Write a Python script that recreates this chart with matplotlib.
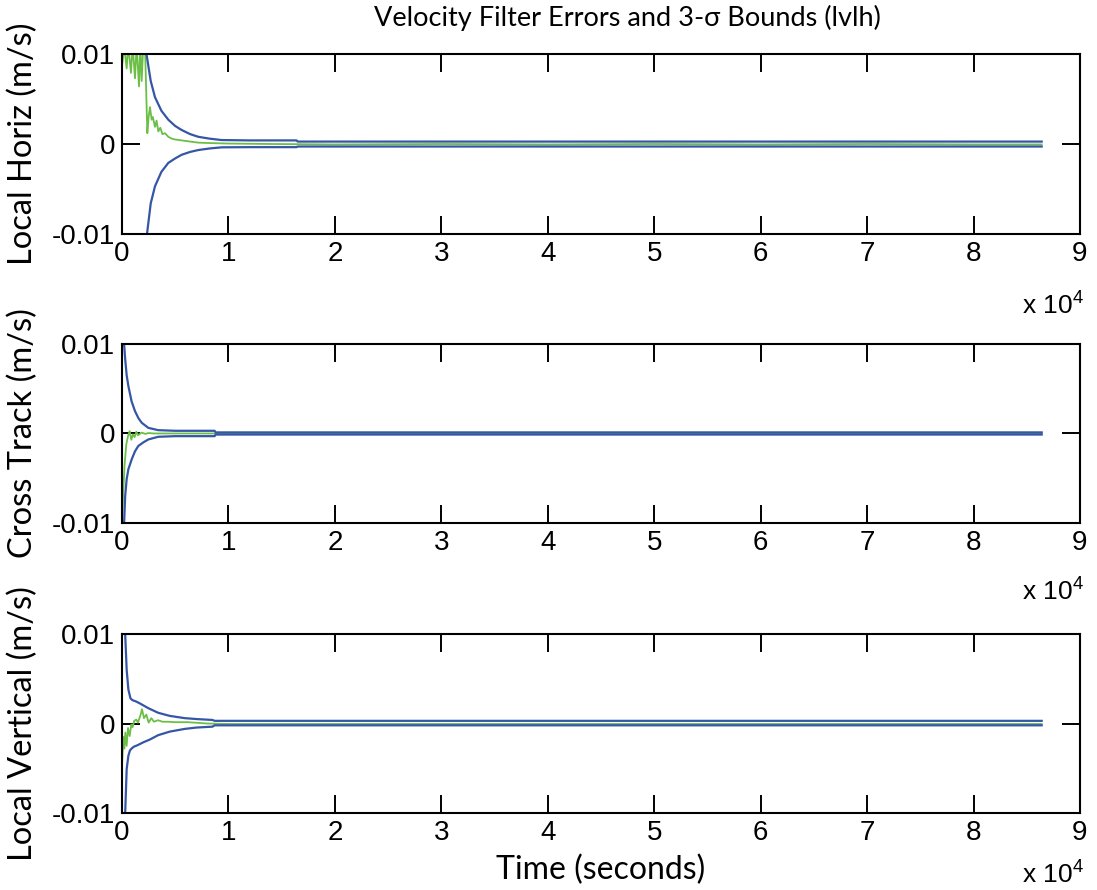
import matplotlib
matplotlib.use("Agg")
import matplotlib.pyplot as plt

plt.rcParams['font.family'] = ['Liberation Sans', 'DejaVu Sans']
plt.rcParams['mathtext.fontset'] = 'custom'
plt.rcParams['mathtext.rm'] = 'Liberation Sans'
plt.rcParams['mathtext.it'] = 'Liberation Sans'

BLUE = '#3556a6'
GREEN = '#6cbf46'
LABEL_FONT = ['Lato', 'DejaVu Sans']

# Local Horiz
t_h_hi = [2300, 2700, 3100, 3700, 4350, 5000, 5600, 6400, 7170, 8200, 9360, 12000, 16400, 16500, 86400]
v_h_hi = [0.0100, 0.0070, 0.0052, 0.0037, 0.0027, 0.0020, 0.00156, 0.0011, 0.0008, 0.0006, 0.00044, 0.0004, 0.0004, 0.00027, 0.00027]
t_h_lo = [2350, 2700, 3100, 3700, 4350, 5000, 5600, 6400, 7170, 8200, 9360, 12000, 16400, 16500, 86400]
v_h_lo = [-0.0100, -0.0066, -0.0047, -0.0031, -0.0021, -0.0016, -0.0012, -0.00088, -0.00067, -0.0005, -0.00037, -0.00035, -0.00035, -0.00028, -0.00028]
t_h_err = [0, 219, 438, 595, 845, 1002, 1221, 1378, 1597, 1722, 1848, 2004, 2160, 2380, 2500, 2631, 2787,
           2900, 3100, 3250, 3413, 3600, 3800, 4040, 4353, 4666, 5000, 5606, 6232, 7171, 8400, 10000,
           14000, 20000, 30000, 40000, 50000, 60000, 70000, 80000, 86400]
v_h_err = [0.0087, 0.0108, 0.0084, 0.0110, 0.0079, 0.0110, 0.0073, 0.0110, 0.0064, 0.0110, 0.0070, 0.0110,
           0.0110, 0.0012, 0.0030, 0.0041, 0.0027, 0.0030, 0.0019, 0.0026, 0.0014, 0.0018, 0.0011, 0.0012,
           0.0008, 0.0006, 0.0005, 0.0004, 0.0003, 0.00015, 0.0001, 0.00005, 0.0, -0.00005, 0.0, -0.00005,
           0.0, -0.00005, 0.0, -0.00005, -0.00005]

# Cross Track
t_c_hi = [200, 300, 440, 600, 900, 1220, 1550, 1850, 2470, 3400, 5000, 8700, 8800, 86400]
v_c_hi = [0.0100, 0.0083, 0.0065, 0.0053, 0.0036, 0.0025, 0.0017, 0.0012, 0.00063, 0.00037, 0.0003, 0.0003, 0.00012, 0.00012]
t_c_lo = [200, 300, 440, 600, 910, 1220, 1530, 2000, 2470, 3400, 5000, 8700, 8800, 86400]
v_c_lo = [-0.0100, -0.0070, -0.0051, -0.0040, -0.0029, -0.0020, -0.0014, -0.0010, -0.00067, -0.00037, -0.0003, -0.0003, -0.00012, -0.00012]
t_c_err = [0, 94, 250, 407, 564, 720, 877, 1033, 1190, 1350, 1500, 1850, 2200, 2500, 3000, 4000, 6000,
           8700, 20000, 40000, 60000, 86400]
v_c_err = [-0.0099, -0.0071, -0.0034, -0.0012, -0.0003, 0.00026, -0.0007, -0.0001, -0.0004, 0.0002,
           -0.0002, 0.0001, -0.00005, 0.00005, 0.0, 0.0, 0.0, 0.0, 0.0, 0.0, 0.0, 0.0]

# Local Vertical
t_v_hi = [300, 440, 600, 800, 1000, 1250, 1600, 1900, 2500, 3400, 4500, 5900, 7000, 8500, 8700, 86400]
v_v_hi = [0.0100, 0.0060, 0.0038, 0.0028, 0.0026, 0.0025, 0.0023, 0.0021, 0.0017, 0.0012, 0.00085, 0.0006, 0.0005, 0.0004, 0.0003, 0.0003]
t_v_lo = [300, 440, 600, 750, 900, 1100, 1500, 2000, 2600, 3400, 4500, 5900, 7000, 8500, 8700, 86400]
v_v_lo = [-0.0100, -0.0051, -0.0036, -0.0030, -0.0028, -0.0026, -0.0024, -0.0021, -0.0018, -0.0013, -0.0009, -0.0006, -0.00045, -0.00035, -0.0002, -0.0002]
t_v_err = [0, 5, 31, 125, 219, 313, 438, 564, 720, 877, 1000, 1150, 1347, 1500, 1754, 1879, 2067, 2286,
           2505, 2756, 3000, 3382, 3800, 4322, 5000, 6200, 8000, 10000, 20000, 40000, 60000, 86400]
v_v_err = [0.0017, -0.0046, -0.0040, -0.0015, -0.0028, -0.0010, -0.0025, -0.0005, -0.0014, -0.0001,
           -0.0004, 0.0003, 0.00044, 0.0001, 0.0010, 0.0016, 0.0006, 0.0010, 0.0001, 0.0006, 0.0002,
           0.00037, 0.0002, 0.0002, 0.00015, 0.00015, 0.0, -0.00005, -0.00005, -0.00005, -0.00005, -0.00005]

panels = [
    ("Local Horiz (m/s)", t_h_err, v_h_err, t_h_hi, v_h_hi, t_h_lo, v_h_lo),
    ("Cross Track (m/s)", t_c_err, v_c_err, t_c_hi, v_c_hi, t_c_lo, v_c_lo),
    ("Local Vertical (m/s)", t_v_err, v_v_err, t_v_hi, v_v_hi, t_v_lo, v_v_lo),
]

xticks = [0, 10000, 20000, 30000, 40000, 50000, 60000, 70000, 80000, 90000]
xtick_labels = ['0', '1', '2', '3', '4', '5', '6', '7', '8', '9']
yticks = [-0.01, 0, 0.01]
ytick_labels = ['-0.01', '0', '0.01']

fig = plt.figure(figsize=(10.97, 8.90), dpi=100)
# axes boxes in figure fractions (left, bottom, width, height)
boxes = [(0.1112, 0.7371, 0.8733, 0.2022),
         (0.1112, 0.4124, 0.8733, 0.2011),
         (0.1112, 0.0865, 0.8733, 0.2011)]
exp_y = [-0.40, -0.385, -0.345]

for i, (name, te, ve, th, vh, tl, vl) in enumerate(panels):
    ax = fig.add_axes(boxes[i])
    ax.plot(te, ve, color=GREEN, linewidth=1.3)
    ax.plot(th, vh, color=BLUE, linewidth=1.6)
    ax.plot(tl, vl, color=BLUE, linewidth=1.6)
    ax.set_xlim(0, 90000)
    ax.set_ylim(-0.01, 0.01)
    ax.set_xticks(xticks)
    ax.set_xticklabels(xtick_labels)
    ax.set_yticks(yticks)
    ax.set_yticklabels(ytick_labels)
    ax.tick_params(direction='in', length=13, width=1.4, labelsize=20,
                   top=True, right=True, pad=5)
    for s in ax.spines.values():
        s.set_linewidth(1.5)
    ax.set_ylabel(name, fontsize=23.5, family=LABEL_FONT)
    ax.yaxis.set_label_coords(-0.087, 0.5)
    ax.text(1.004, exp_y[i], r'x 10$^4$', transform=ax.transAxes, ha='right', va='center', fontsize=19)
    if i == 0:
        ax.set_title('Velocity Filter Errors and 3-σ Bounds (lvlh)', fontsize=19.5,
                     family=LABEL_FONT, x=0.528, pad=20)
    if i == 2:
        ax.set_xlabel('Time (seconds)', fontsize=23, family=LABEL_FONT)
        ax.xaxis.set_label_coords(0.5, -0.235)

fig.savefig('out.png', dpi=100)
